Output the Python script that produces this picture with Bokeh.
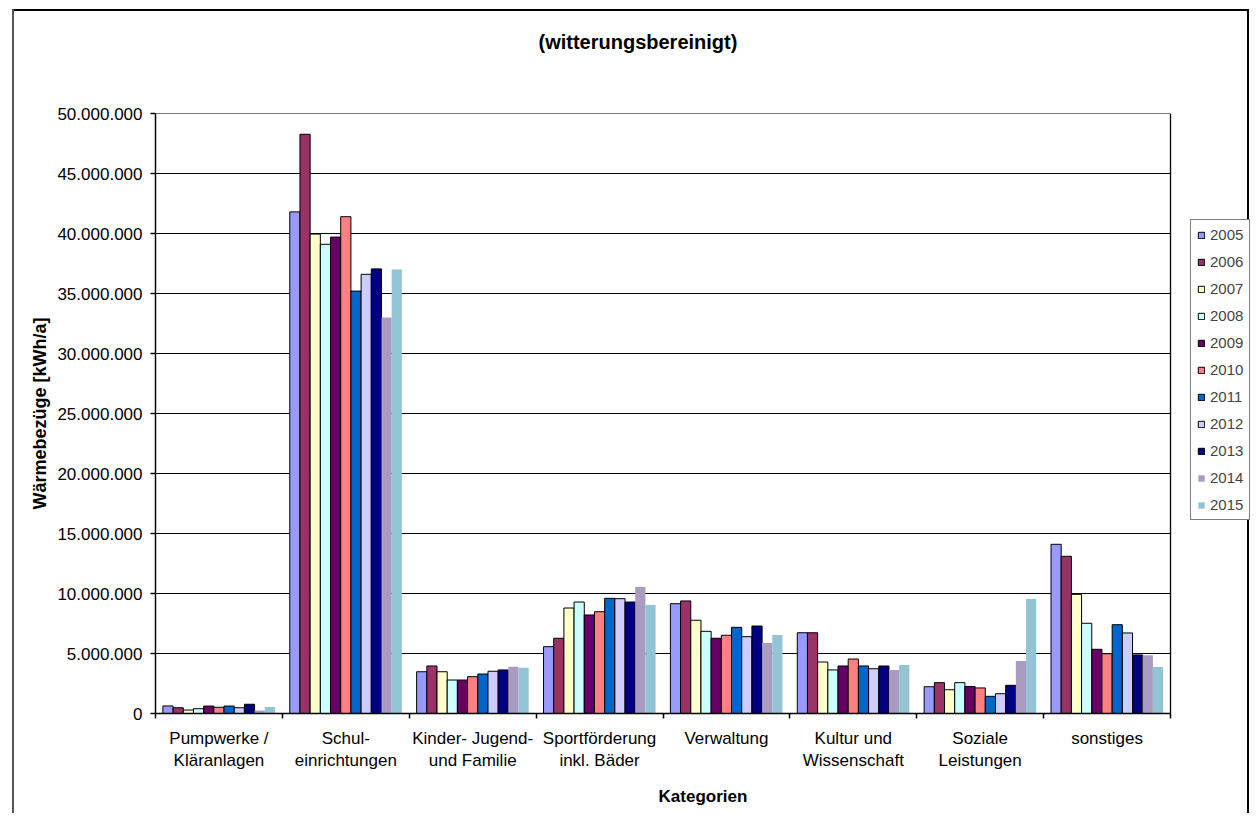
from bokeh.plotting import figure
from bokeh.models import (Range1d, FixedTicker, CustomJSTickFormatter, Legend,
                          LegendItem, ColumnDataSource, Title)
from bokeh.transform import dodge
from bokeh.embed import file_html
from bokeh.resources import INLINE

# ---------------- data ----------------
categories = ["Pumpwerke /\nKläranlagen", "Schul-\neinrichtungen", "Kinder- Jugend-\nund Familie",
              "Sportförderung\ninkl. Bäder", "Verwaltung", "Kultur und\nWissenschaft",
              "Soziale\nLeistungen", "sonstiges"]
years = ["2005", "2006", "2007", "2008", "2009", "2010", "2011", "2012", "2013", "2014", "2015"]

v2005 = [630000, 41800000, 3480000, 5570000, 9150000, 6730000, 2230000, 14100000]
v2006 = [480000, 48270000, 3960000, 6270000, 9380000, 6730000, 2570000, 13100000]
v2007 = [290000, 39950000, 3480000, 8790000, 7770000, 4290000, 1980000, 9930000]
v2008 = [400000, 39100000, 2790000, 9290000, 6850000, 3630000, 2570000, 7520000]
v2009 = [620000, 39700000, 2790000, 8210000, 6270000, 3960000, 2250000, 5350000]
v2010 = [520000, 41400000, 3070000, 8480000, 6520000, 4540000, 2130000, 4980000]
v2011 = [620000, 35200000, 3290000, 9600000, 7180000, 3960000, 1430000, 7400000]
v2012 = [480000, 36600000, 3520000, 9570000, 6400000, 3730000, 1650000, 6710000]
v2013 = [770000, 37050000, 3630000, 9290000, 7290000, 3960000, 2350000, 4880000]
v2014 = [250000, 33000000, 3900000, 10540000, 5880000, 3630000, 4380000, 4850000]
v2015 = [540000, 37000000, 3820000, 9040000, 6540000, 4040000, 9540000, 3880000]
series = [v2005, v2006, v2007, v2008, v2009, v2010, v2011, v2012, v2013, v2014, v2015]

y_ticks = [0, 5000000, 10000000, 15000000, 20000000, 25000000,
           30000000, 35000000, 40000000, 45000000, 50000000]

title_text = "(witterungsbereinigt)"
x_title = "Kategorien"
y_title = "Wärmebezüge [kWh/a]"

# ---------------- style ----------------
colors = ["#9999FF", "#993366", "#FFFFCC", "#CCFFFF", "#660066", "#FF8080",
          "#0066CC", "#CCCCFF", "#000080", "#A99CC0", "#93C4D5"]
outlined = [True] * 9 + [False] * 2
FONT = "Liberation Sans"

n_cat = len(categories)
W, H = 1250, 813
LEFT, TOP, BOTTOM = 155, 113, 100
PLOT_W = 1015                       # width of the actual plotting area (px)
frame_w = W - LEFT                  # frame extends to the right edge (legend lives there)
x_end = n_cat * frame_w / PLOT_W

p = figure(width=W, height=H, output_backend="svg", toolbar_location=None,
           x_range=Range1d(0, x_end), y_range=Range1d(0, y_ticks[-1]),
           min_border_left=LEFT, min_border_right=0, min_border_top=TOP,
           min_border_bottom=BOTTOM)

p.background_fill_color = None
p.border_fill_color = None
p.outline_line_color = None
p.title.text = ""

# outer chart frame, drawn behind the transparent canvas
p.styles = {
    "background-color": "white",
    "background-image": "linear-gradient(#555,#555), linear-gradient(#000,#000), linear-gradient(#000,#000)",
    "background-size": "2px 100%, 1236px 2px, 2px 100%",
    "background-position": "12px 9px, 12px 9px, 1247px 9px",
    "background-repeat": "no-repeat",
}

# ---- bottom x axis ----
xa = p.xaxis[0]
xa.bounds = (0, n_cat)
xa.ticker = FixedTicker(ticks=[i + 0.5 for i in range(n_cat)],
                        minor_ticks=list(range(n_cat + 1)))
xa.formatter = CustomJSTickFormatter(args=dict(labels=categories), code="""
    const i = Math.round(tick - 0.5);
    return (i >= 0 && i < labels.length) ? labels[i] : "";
""")
xa.major_tick_line_color = None
xa.major_tick_in = 0
xa.major_tick_out = 0
xa.minor_tick_in = 0
xa.minor_tick_out = 5
xa.minor_tick_line_color = "black"
xa.minor_tick_line_width = 1.5
xa.axis_line_width = 1.5
xa.axis_line_color = "black"
xa.major_label_text_font = FONT
xa.major_label_text_font_size = "17px"
xa.major_label_text_color = "black"
xa.major_label_text_line_height = 1.2
xa.major_label_standoff = 10
xa.axis_label = x_title
xa.axis_label_text_font = FONT
xa.axis_label_text_font_size = "17px"
xa.axis_label_text_font_style = "bold"
xa.axis_label_text_color = "black"
xa.axis_label_standoff = 14

ya = p.yaxis[0]
ya.ticker = FixedTicker(ticks=y_ticks)
ya.formatter = CustomJSTickFormatter(code="""
    return Math.round(tick).toString().replace(/\\B(?=(\\d{3})+(?!\\d))/g, ".");
""")
ya.minor_tick_line_color = None
ya.major_tick_in = 0
ya.major_tick_out = 5
ya.axis_line_width = 1.5
ya.major_tick_line_width = 1.5
ya.major_label_text_font = FONT
ya.major_label_text_font_size = "17px"
ya.major_label_text_color = "black"
ya.major_label_standoff = 8
ya.axis_label = y_title
ya.axis_label_text_font = FONT
ya.axis_label_text_font_size = "18px"
ya.axis_label_text_font_style = "bold"
ya.axis_label_text_color = "black"
ya.axis_label_standoff = 4

p.xgrid.grid_line_color = None
p.ygrid.grid_line_color = None

# ---- title: two empty lines below it lift it to the top of the chart ----
p.add_layout(Title(text=title_text + "\n\n", align="left", offset=383, text_font=FONT,
                   text_font_size="20px", text_font_style="bold", text_color="black",
                   text_line_height=1.27),
             "above")

# ---- plot-area: white fill, horizontal gridlines and right border ----
p.quad(left=[0], right=[n_cat], bottom=[0], top=[y_ticks[-1]],
       fill_color="white", line_color=None)
p.segment(x0=[0] * len(y_ticks), x1=[n_cat] * len(y_ticks), y0=y_ticks, y1=y_ticks,
          line_color="black", line_width=1.2)
p.segment(x0=[n_cat], x1=[n_cat], y0=[0], y1=[y_ticks[-1]],
          line_color="black", line_width=1.3)

# ---- bars ----
n = len(years)
bw = 0.0803
src = {"idx": list(range(n_cat))}
for y, s in zip(years, series):
    src["v" + y] = s
source = ColumnDataSource(src)

items = []
for j, y in enumerate(years):
    off = 0.5 + (j - (n - 1) / 2) * bw
    r = p.vbar(x=dodge("idx", off, range=p.x_range), top="v" + y, width=bw, bottom=0,
               source=source, fill_color=colors[j],
               line_color="black" if outlined[j] else None, line_width=1)
    items.append(LegendItem(label=y, renderers=[r]))

legend = Legend(items=items, location=(1035, 193), orientation="vertical",
                label_text_font=FONT, label_text_font_size="15px",
                glyph_width=8, glyph_height=8, label_height=14, spacing=10,
                label_standoff=5, padding=6, margin=0,
                border_line_color="black", border_line_width=1,
                background_fill_color="white", background_fill_alpha=1)
p.add_layout(legend, "center")

open("out.html", "w").write(file_html(p, INLINE))
